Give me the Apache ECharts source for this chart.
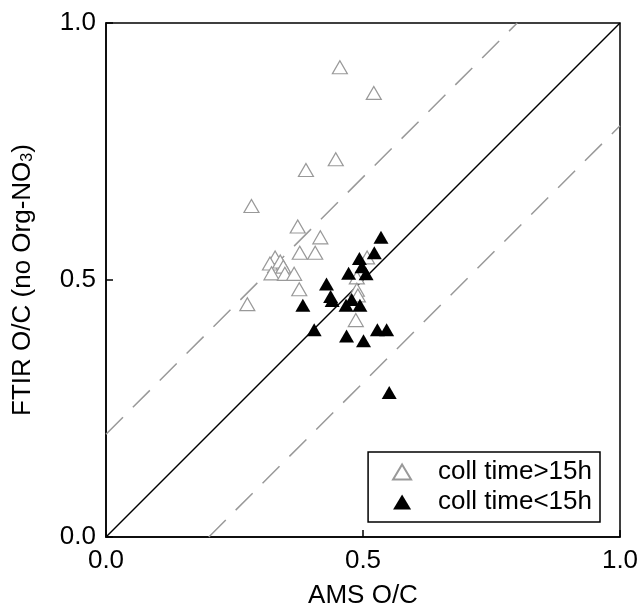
<!DOCTYPE html>
<html>
<head>
<meta charset="utf-8">
<script src="https://cdn.jsdelivr.net/npm/echarts@6/dist/echarts.min.js"></script>
<style>
  html, body { margin: 0; padding: 0; background: #fff; }
  #chart { width: 639px; height: 606px; }
</style>
</head>
<body>
<div id="chart"></div>
<script>
// AMS O/C vs FTIR O/C, long collection time (>15h)
const longAms = [0.455, 0.521, 0.447, 0.389, 0.283, 0.373, 0.417, 0.377, 0.407, 0.329, 0.319, 0.339, 0.345, 0.322, 0.348, 0.366, 0.376, 0.275, 0.486, 0.508, 0.488, 0.488, 0.490]
const longFtir = [0.914, 0.864, 0.735, 0.714, 0.644, 0.604, 0.583, 0.553, 0.553, 0.544, 0.532, 0.536, 0.526, 0.513, 0.512, 0.512, 0.482, 0.453, 0.422, 0.544, 0.505, 0.481, 0.470]

// short collection time (<15h)
const shortAms = [0.535, 0.522, 0.493, 0.472, 0.498, 0.506, 0.429, 0.437, 0.440, 0.467, 0.494, 0.383, 0.405, 0.468, 0.501, 0.528, 0.546, 0.551, 0.478]
const shortFtir = [0.583, 0.553, 0.542, 0.513, 0.526, 0.512, 0.492, 0.468, 0.460, 0.451, 0.451, 0.451, 0.403, 0.391, 0.382, 0.403, 0.403, 0.281, 0.462]

// reference lines y = x + offset
const oneToOne = [0]
const bandOffsets = [0.2, -0.2]

const font = 'Liberation Sans, Arial, Helvetica, sans-serif'
const fs = 26

function refLine(off) {
    const x0 = Math.max(0, -off)
    const x1 = Math.min(1, 1 - off)
    return [[x0, x0 + off], [x1, x1 + off]]
}

const chart = echarts.init(document.getElementById('chart'))

const series = []
oneToOne.forEach(off => {
    series.push({
        type: 'line',
        data: refLine(off),
        symbol: 'none',
        silent: true,
        lineStyle: { color: '#000', width: 1.5 },
        z: 1
    })
})
bandOffsets.forEach(off => {
    series.push({
        type: 'line',
        data: refLine(off),
        symbol: 'none',
        silent: true,
        lineStyle: { color: '#999', width: 1.5, type: [24, 14] },
        z: 1
    })
})
series.push({
    name: 'coll time>15h',
    type: 'scatter',
    data: longAms.map((v, i) => [v, longFtir[i]]),
    symbol: 'triangle',
    symbolSize: [15, 13],
    itemStyle: { color: '#fff', borderColor: '#999', borderWidth: 1.2, opacity: 1 },
    z: 3
})
series.push({
    name: 'coll time<15h',
    type: 'scatter',
    data: shortAms.map((v, i) => [v, shortFtir[i]]),
    symbol: 'triangle',
    symbolSize: [15, 13],
    itemStyle: { color: '#000', opacity: 1 },
    z: 4
})

const axisCommon = {
    type: 'value',
    min: 0,
    max: 1,
    interval: 0.5,
    axisLine: { lineStyle: { color: '#000', width: 1.5 } },
    axisTick: { inside: true, length: 7, lineStyle: { color: '#000', width: 1.5 } },
    splitLine: { show: false },
    axisLabel: {
        color: '#000',
        fontSize: fs,
        fontFamily: font,
        formatter: v => v.toFixed(1)
    },
    nameLocation: 'middle',
    nameTextStyle: { color: '#000', fontSize: fs, fontFamily: font }
}

chart.setOption({
    animation: false,
    grid: {
        left: 106,
        right: 19,
        top: 23,
        bottom: 69,
        outerBoundsMode: 'none',
        containLabel: false,
        show: true,
        borderColor: '#000',
        borderWidth: 1.5,
        backgroundColor: 'transparent'
    },
    legend: {
        data: ['coll time>15h', 'coll time<15h'],
        orient: 'vertical',
        right: 39,
        bottom: 84,
        itemWidth: 18,
        itemHeight: 15,
        itemGap: 4,
        padding: [7, 8, 7, 24],
        borderColor: '#000',
        borderWidth: 1.5,
        borderRadius: 0,
        backgroundColor: '#fff',
        textStyle: { color: '#000', fontSize: fs, fontFamily: font, padding: [0, 0, 0, 22] }
    },
    xAxis: Object.assign({}, axisCommon, {
        name: 'AMS O/C',
        nameGap: 46,
        axisLabel: Object.assign({}, axisCommon.axisLabel, { margin: 11 })
    }),
    yAxis: Object.assign({}, axisCommon, {
        name: '{a|FTIR O/C (no Org-NO}{s|3}{a|)}',
        nameGap: 70,
        nameTextStyle: {
            rich: {
                a: { fontSize: fs, fontFamily: font, color: '#000' },
                s: { fontSize: 16, fontFamily: font, color: '#000', verticalAlign: 'bottom', padding: [10, 0, 0, 0] }
            }
        },
        axisLabel: Object.assign({}, axisCommon.axisLabel, { margin: 10 })
    }),
    series: series
})
</script>
</body>
</html>
